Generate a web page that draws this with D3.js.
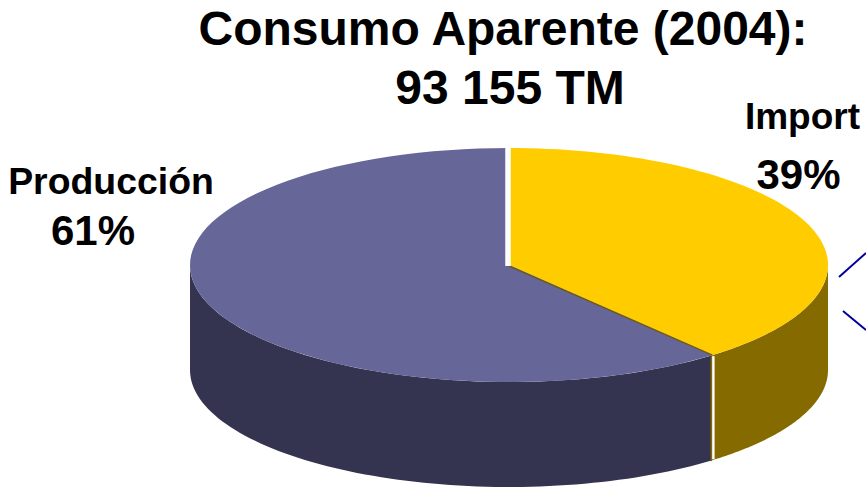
<!DOCTYPE html>
<html><head><meta charset="utf-8">
<script src="https://cdn.jsdelivr.net/npm/d3@7"></script>
<style>html,body{margin:0;padding:0;background:#fff}svg{display:block}text{font-family:"Liberation Sans",Arial,sans-serif;font-weight:700;fill:#000}</style>
</head><body><svg id="c" width="866" height="488"></svg>
<script>
const categories=["Import","Producción"];
const shares=[39,61];
const topColors=["#ffcc00","#666699"];
const sideColors=["#856a00","#343450"];
const titleLines=["Consumo Aparente (2004):","93 155 TM"];
const svg=d3.select("#c");
const cx=509,cy=265,rx=319,ry=117,depth=105;
const pie=d3.pie().sort(null).value(d=>d)(shares);
const pt=(a,dy=0)=>[cx+rx*Math.sin(a),cy-ry*Math.cos(a)+dy];
function sector(a0,a1,dy=0){const n=80,p=[[cx,cy+dy]];for(let i=0;i<=n;i++)p.push(pt(a0+(a1-a0)*i/n,dy));return d3.line()(p)+"Z";}
function wall(a0,a1){const n=80,u=[],l=[];for(let i=0;i<=n;i++){const a=a0+(a1-a0)*i/n;u.push(pt(a));l.push(pt(a,depth));}return d3.line()(u.concat(l.reverse()))+"Z";}
const ang=pie[0].endAngle;
const vis=3*Math.PI/2;
svg.append("path").attr("d",wall(pie[0].startAngle+Math.PI/2,ang)).attr("fill",sideColors[0]);
svg.append("path").attr("d",wall(ang,vis)).attr("fill",sideColors[1]);
pie.forEach((d,i)=>svg.append("path").attr("d",sector(d.startAngle,d.endAngle)).attr("fill",topColors[i]));
const e=pt(ang);
svg.append("path").attr("d",d3.line()([[cx,cy+1],e])).attr("stroke","#6b5a20").attr("stroke-width",1.5);
svg.append("path").attr("d",d3.line()([[cx-1,cy+1],[cx-1,cy-117]])).attr("stroke","#fff").attr("stroke-width",5.5).attr("fill","none");
svg.append("path").attr("d",d3.line()([[e[0]+1,e[1]+1],[e[0]+1,e[1]+depth-1]])).attr("stroke","#fff").attr("stroke-width",2.5);
svg.append("path").attr("d",d3.line()([[e[0]-1,e[1]+1],[e[0]-1,e[1]+depth+1]])).attr("stroke","#856a00").attr("stroke-width",1.5);
[[[866,253],[839,277]],[[843,311],[866,330]]].forEach(s=>svg.append("path").attr("d",d3.line()(s)).attr("stroke","#000099").attr("stroke-width",2));
titleLines.forEach((t,i)=>svg.append("text").attr("x",[503,510][i]).attr("y",[45,104][i]).attr("text-anchor","middle").attr("font-size",48).text(t));
svg.append("text").attr("x",802.5).attr("y",129).attr("text-anchor","middle").attr("font-size",37).text(categories[0]);
svg.append("text").attr("x",798.5).attr("y",189).attr("text-anchor","middle").attr("font-size",42).text(shares[0]+"%");
svg.append("text").attr("x",111).attr("y",194).attr("text-anchor","middle").attr("font-size",37.4).text(categories[1]);
svg.append("text").attr("x",93).attr("y",245).attr("text-anchor","middle").attr("font-size",42).text(shares[1]+"%");
</script></body></html>
